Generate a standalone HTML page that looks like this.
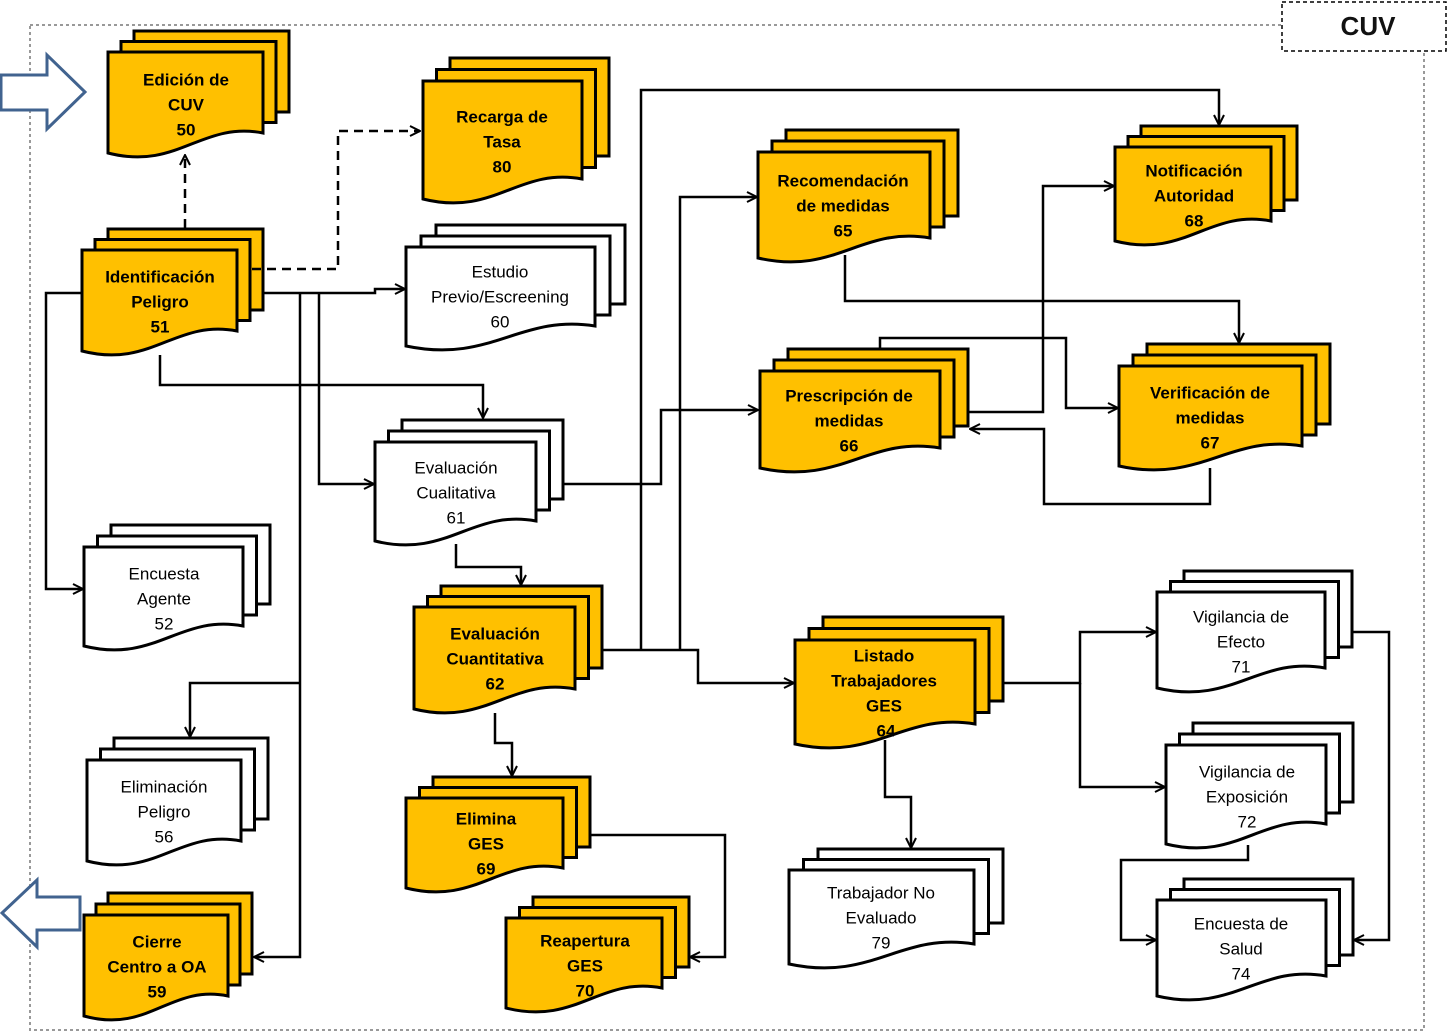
<!DOCTYPE html>
<html><head><meta charset="utf-8"><style>
html,body{margin:0;padding:0;background:#fff;}
svg{display:block;}
text{font-family:"Liberation Sans",Arial,sans-serif;font-size:17px;text-anchor:middle;dominant-baseline:middle;fill:#000;}
.b{font-weight:bold;}
</style></head><body>
<svg id="s" width="1448" height="1033" viewBox="0 0 1448 1033" xmlns="http://www.w3.org/2000/svg">
<defs>
<marker id="a" viewBox="0 0 12 12" refX="11" refY="6" markerWidth="12" markerHeight="12" markerUnits="userSpaceOnUse" orient="auto">
<path d="M1,1 L11,6 L1,11" fill="none" stroke="#000" stroke-width="2"/>
</marker>
</defs>
<rect x="30" y="25" width="1394" height="1005" fill="none" stroke="#999" stroke-width="2" stroke-dasharray="3,3"/>
<rect x="1282" y="2" width="164" height="49" fill="#fff" stroke="#000" stroke-width="1.5" stroke-dasharray="4,3"/>
<text x="1368" y="28" class="b" style="font-size:26px;fill:#111">CUV</text>
<path d="M1,75 H47 V55 L85,92 L47,129 V110 H1 Z" fill="#fff" stroke="#41638f" stroke-width="3"/>
<path d="M2,913 L37,880 V897 H80 V930 H37 V947 Z" fill="#fff" stroke="#41638f" stroke-width="3"/>
<g id="nodes"></g>
<g id="lines" fill="none" stroke="#000" stroke-width="2.5"></g>
<g id="txt" transform="translate(0,2)">
<text class="b" x="186" y="79">Edición de</text><text class="b" x="186" y="104">CUV</text><text class="b" x="186" y="129">50</text>
<text class="b" x="502" y="116">Recarga de</text><text class="b" x="502" y="141">Tasa</text><text class="b" x="502" y="166">80</text>
<text x="500" y="271">Estudio</text><text x="500" y="296">Previo/Escreening</text><text x="500" y="321">60</text>
<text class="b" x="843" y="180">Recomendación</text><text class="b" x="843" y="205">de medidas</text><text class="b" x="843" y="230">65</text>
<text class="b" x="1194" y="170">Notificación</text><text class="b" x="1194" y="195">Autoridad</text><text class="b" x="1194" y="220">68</text>
<text class="b" x="160" y="276">Identificación</text><text class="b" x="160" y="301">Peligro</text><text class="b" x="160" y="326">51</text>
<text x="456" y="467">Evaluación</text><text x="456" y="492">Cualitativa</text><text x="456" y="517">61</text>
<text class="b" x="849" y="395">Prescripción de</text><text class="b" x="849" y="420">medidas</text><text class="b" x="849" y="445">66</text>
<text class="b" x="1210" y="392">Verificación de</text><text class="b" x="1210" y="417">medidas</text><text class="b" x="1210" y="442">67</text>
<text x="164" y="573">Encuesta</text><text x="164" y="598">Agente</text><text x="164" y="623">52</text>
<text class="b" x="495" y="633">Evaluación</text><text class="b" x="495" y="658">Cuantitativa</text><text class="b" x="495" y="683">62</text>
<text class="b" x="884" y="655">Listado</text><text class="b" x="884" y="680">Trabajadores</text><text class="b" x="884" y="705">GES</text><text class="b" x="886" y="730">64</text>
<text x="1241" y="616">Vigilancia de</text><text x="1241" y="641">Efecto</text><text x="1241" y="666">71</text>
<text x="164" y="786">Eliminación</text><text x="164" y="811">Peligro</text><text x="164" y="836">56</text>
<text class="b" x="486" y="818">Elimina</text><text class="b" x="486" y="843">GES</text><text class="b" x="486" y="868">69</text>
<text x="1247" y="771">Vigilancia de</text><text x="1247" y="796">Exposición</text><text x="1247" y="821">72</text>
<text x="881" y="892">Trabajador No</text><text x="881" y="917">Evaluado</text><text x="881" y="942">79</text>
<text x="1241" y="923">Encuesta de</text><text x="1241" y="948">Salud</text><text x="1241" y="973">74</text>
<text class="b" x="157" y="941">Cierre</text><text class="b" x="157" y="966">Centro a OA</text><text class="b" x="157" y="991">59</text>
<text class="b" x="585" y="940">Reapertura</text><text class="b" x="585" y="965">GES</text><text class="b" x="585" y="990">70</text>
</g>
</svg>
<script>
var NS="http://www.w3.org/2000/svg";
var Y="#FFC000",W="#fff";
var N=[[108,52,263,157,289,31,Y],[423,81,582,203,609,58,Y],[406,247,595,350,625,225,W],[758,152,930,262,958,130,Y],
[1115,147,1271,245,1297,126,Y],[82,250,237,355,263,229,Y],[375,442,536,545,563,420,W],[760,371,940,472,968,349,Y],
[1119,366,1302,470,1330,344,Y],[84,547,243,650,270,525,W],[414,607,575,713,602,586,Y],[795,640,975,748,1003,617,Y],
[1157,592,1325,692,1352,571,W],[87,760,241,865,268,738,W],[406,798,563,892,590,777,Y],[1166,745,1326,848,1353,723,W],
[789,870,974,968,1003,849,W],[1157,900,1326,1000,1353,879,W],[84,915,228,1020,252,893,Y],[506,918,662,1012,689,897,Y]];
var g=document.getElementById("nodes");
function el(t,a){var e=document.createElementNS(NS,t);for(var k in a)e.setAttribute(k,a[k]);g.appendChild(e);return e;}
N.forEach(function(n){
 var x=n[0],y=n[1],r=n[2],B=n[3],br=n[4],bt=n[5],c=n[6];
 var w=r-x, rb=B-24;
 var dx=(br-r)/2, dy=(y-bt)/2;
 for(var i=2;i>=1;i--){
  el("rect",{x:x+dx*i,y:y-dy*i,width:w,height:rb-y,fill:c,stroke:"#000","stroke-width":3});
 }
 var d="M"+x+","+y+" H"+r+" V"+rb+" C"+(x+0.6*w)+","+(rb-12)+" "+(x+0.45*w)+","+(B+14)+" "+x+","+(B-4)+" Z";
 el("path",{d:d,fill:c,stroke:"#000","stroke-width":3});
});
var L=document.getElementById("lines");
function ln(p,dash){var e=document.createElementNS(NS,"polyline");e.setAttribute("points",p);if(dash)e.setAttribute("stroke-dasharray","9,6");e.setAttribute("marker-end","url(#a)");L.appendChild(e);}
ln("185,228 185,155",1);
ln("252,269 338,269 338,131 420,131",1);
ln("263,293 375,293 375,289 405,289");
ln("300,293 300,957 254,957");
ln("300,683 190,683 190,737");
ln("319,293 319,484 374,484");
ln("82,293 46,293 46,589 83,589");
ln("160,355 160,385 483,385 483,418");
ln("563,484 661,484 661,410 758,410");
ln("456,544 456,567 521,567 521,585");
ln("602,650 698,650 698,683 794,683");
ln("641,650 641,90 1219,90 1219,125");
ln("680,650 680,197 757,197");
ln("495,713 495,743 512,743 512,776");
ln("590,835 725,835 725,957 690,957");
ln("845,255 845,301 1239,301 1239,343");
ln("968,412 1043,412 1043,186 1114,186");
ln("880,349 880,338 1066,338 1066,408 1118,408");
ln("1210,468 1210,504 1044,504 1044,429 970,429");
ln("1003,683 1080,683 1080,632 1156,632");
ln("1080,683 1080,787 1165,787");
ln("885,740 885,797 911,797 911,848");
ln("1352,632 1389,632 1389,940 1354,940");
ln("1248,845 1248,860 1121,860 1121,940 1156,940");
</script>
</body></html>
